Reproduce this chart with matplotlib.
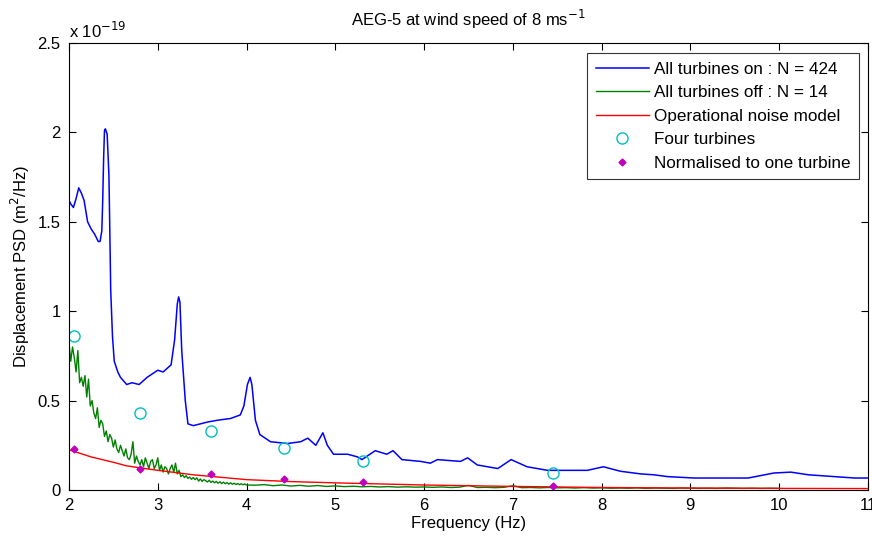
import numpy as np
import matplotlib
matplotlib.use("Agg")
import matplotlib.pyplot as plt
from matplotlib.ticker import FormatStrFormatter

plt.rcParams['font.family'] = ['Liberation Sans', 'DejaVu Sans']

# PSD values are given in units of 1e-19 m^2/Hz
freq_on = [2.00, 2.02, 2.05, 2.08, 2.11, 2.14, 2.17, 2.21, 2.25, 2.29, 2.33, 2.35,
           2.37, 2.38, 2.39, 2.40, 2.41, 2.43, 2.45, 2.46, 2.47, 2.49, 2.51, 2.55,
           2.58, 2.65, 2.71, 2.79, 2.88, 3.00, 3.06, 3.15, 3.19, 3.22, 3.235, 3.25,
           3.27, 3.31, 3.34, 3.40, 3.56, 3.67, 3.82, 3.93, 3.97, 4.01, 4.04, 4.06,
           4.10, 4.15, 4.27, 4.46, 4.61, 4.69, 4.78, 4.86, 4.91, 4.98, 5.14, 5.25,
           5.30, 5.45, 5.58, 5.65, 5.75, 5.96, 6.07, 6.15, 6.41, 6.49, 6.60, 6.83,
           6.98, 7.16, 7.39, 7.54, 7.84, 8.02, 8.21, 8.44, 8.59, 8.74, 9.04, 9.65,
           9.94, 10.13, 10.33, 10.62, 10.85, 11.00]
psd_on = [1.62, 1.60, 1.58, 1.63, 1.69, 1.66, 1.62, 1.50, 1.46, 1.43, 1.39, 1.39,
          1.45, 1.62, 1.85, 2.01, 2.02, 1.99, 1.76, 1.45, 1.12, 0.86, 0.72, 0.66,
          0.63, 0.59, 0.60, 0.59, 0.63, 0.67, 0.66, 0.70, 0.84, 1.04, 1.08, 1.05,
          0.78, 0.50, 0.37, 0.36, 0.38, 0.39, 0.40, 0.42, 0.47, 0.59, 0.63, 0.59,
          0.39, 0.31, 0.27, 0.26, 0.27, 0.29, 0.25, 0.32, 0.25, 0.20, 0.20, 0.185,
          0.17, 0.22, 0.20, 0.22, 0.17, 0.16, 0.15, 0.17, 0.16, 0.18, 0.14, 0.12,
          0.17, 0.13, 0.11, 0.11, 0.11, 0.13, 0.105, 0.09, 0.085, 0.075, 0.067, 0.067,
          0.095, 0.10, 0.085, 0.075, 0.067, 0.067]

freq_off_fine = np.round(np.arange(2.0, 4.001, 0.02), 3)
psd_off_fine = [0.82, 0.72, 0.80, 0.74, 0.66, 0.78, 0.60, 0.63, 0.58, 0.64,
                0.52, 0.62, 0.47, 0.50, 0.43, 0.40, 0.46, 0.35, 0.39, 0.37,
                0.30, 0.33, 0.27, 0.31, 0.29, 0.24, 0.28, 0.23, 0.21, 0.25,
                0.22, 0.19, 0.23, 0.18, 0.17, 0.20, 0.27, 0.15, 0.19, 0.16,
                0.14, 0.17, 0.13, 0.18, 0.15, 0.12, 0.16, 0.17, 0.12, 0.14,
                0.18, 0.11, 0.14, 0.10, 0.13, 0.12, 0.09, 0.12, 0.14, 0.10,
                0.15, 0.09, 0.11, 0.075, 0.085, 0.07, 0.08, 0.065, 0.072, 0.06,
                0.07, 0.058, 0.068, 0.05, 0.062, 0.048, 0.058, 0.052, 0.045, 0.055,
                0.042, 0.05, 0.04, 0.048, 0.038, 0.046, 0.036, 0.044, 0.035, 0.042,
                0.033, 0.04, 0.032, 0.038, 0.031, 0.036, 0.03, 0.035, 0.029, 0.034,
                0.028]
freq_off_coarse = np.round(np.arange(4.1, 10.001, 0.1), 2)
psd_off_coarse = [0.027, 0.030, 0.024, 0.028, 0.022, 0.026, 0.021, 0.025, 0.020, 0.023,
                  0.019, 0.021, 0.018, 0.020, 0.017, 0.019, 0.016, 0.018, 0.016, 0.017,
                  0.015, 0.017, 0.014, 0.016, 0.026, 0.014, 0.015, 0.013, 0.015, 0.024,
                  0.013, 0.014, 0.012, 0.014, 0.012, 0.013, 0.011, 0.013, 0.011, 0.012,
                  0.010, 0.011, 0.010, 0.012, 0.009, 0.011, 0.010, 0.009, 0.011, 0.010,
                  0.009, 0.010, 0.009, 0.011, 0.010, 0.009, 0.010, 0.009, 0.010, 0.009]

freq_model = [2.0, 2.25, 2.5, 2.65, 3.0, 3.4, 4.0, 4.5, 5.0, 5.5, 6.0, 7.0, 8.0, 9.0, 10.0, 11.0]
psd_model = [0.225, 0.185, 0.155, 0.135, 0.11, 0.085, 0.058, 0.047, 0.040, 0.034,
             0.028, 0.020, 0.014, 0.011, 0.009, 0.008]

freq_turbines = [2.06, 2.80, 3.60, 4.42, 5.31, 7.45]
psd_four = [0.86, 0.43, 0.33, 0.235, 0.16, 0.095]
psd_one = [0.23, 0.12, 0.09, 0.06, 0.045, 0.022]

x_ticks = [2, 3, 4, 5, 6, 7, 8, 9, 10, 11]
y_ticks = [0, 0.5, 1, 1.5, 2, 2.5]

freq_off = np.concatenate([freq_off_fine, freq_off_coarse])
psd_off = np.concatenate([psd_off_fine, psd_off_coarse])

fig = plt.figure(figsize=(8.72, 5.39), dpi=100)
ax = fig.add_axes([0.0791, 0.0909, 0.9163, 0.8293])

ax.plot(freq_on, psd_on, color=(0, 0, 1), lw=1.1, label='All turbines on : N = 424')
ax.plot(freq_off, psd_off, color=(0, 0.5, 0), lw=1.0, label='All turbines off : N = 14')
ax.plot(freq_model, psd_model, color=(1, 0, 0), lw=1.0, label='Operational noise model')
ax.plot(freq_turbines, psd_four, linestyle='none', marker='o', markersize=8,
        markerfacecolor='none', markeredgecolor=(0, 0.75, 0.75), markeredgewidth=1.0,
        label='Four turbines')
ax.plot(freq_turbines, psd_one, linestyle='none', marker='D', markersize=3.5,
        color=(0.75, 0, 0.75), label='Normalised to one turbine')

ax.set_xlim(2, 11)
ax.set_ylim(0, 2.5)
ax.set_xticks(x_ticks)
ax.set_yticks(y_ticks)
ax.yaxis.set_major_formatter(FormatStrFormatter('%g'))
ax.tick_params(direction='in', top=True, right=True, length=5, width=0.8,
               labelsize=12, pad=6)
for s in ax.spines.values():
    s.set_linewidth(0.8)

ax.set_xlabel('Frequency (Hz)', fontsize=12, labelpad=2)
ax.set_ylabel('Displacement PSD (m$^2$/Hz)', fontsize=12, labelpad=4)
ax.set_title('AEG-5 at wind speed of 8 ms$^{-1}$', fontsize=12, pad=12)
ax.text(0.0, 1.005, 'x 10$^{-19}$', transform=ax.transAxes, fontsize=12,
        ha='left', va='bottom')

leg = ax.legend(loc='upper right', bbox_to_anchor=(0.9887, 0.9776), borderaxespad=0,
                fontsize=12.3, frameon=True, fancybox=False, handlelength=3.1,
                handletextpad=0.3, labelspacing=0.5, borderpad=0.5)
leg.get_frame().set_edgecolor('black')
leg.get_frame().set_linewidth(0.8)

fig.savefig('out.png', dpi=100)
